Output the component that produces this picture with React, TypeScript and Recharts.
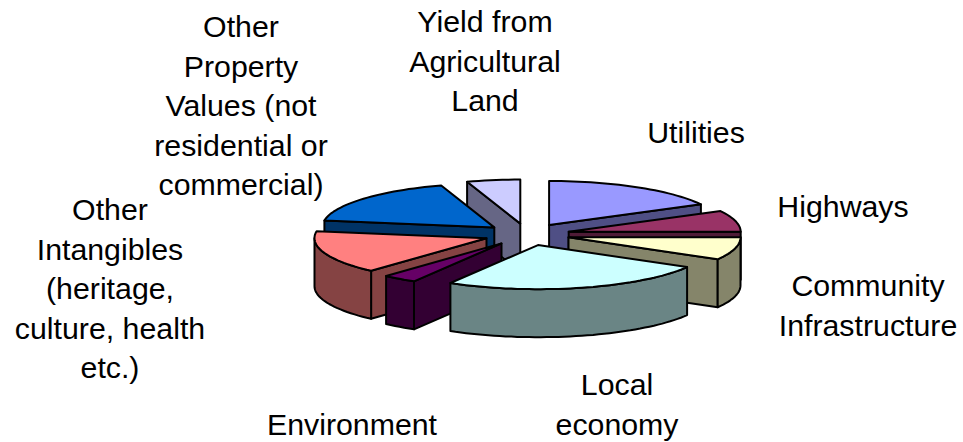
import { PieChart, Pie } from "recharts";

const categories = [
  "Utilities",
  "Highways",
  "Community Infrastructure",
  "Local economy",
  "Environment",
  "Other Intangibles (heritage, culture, health etc.)",
  "Other Property Values (not residential or commercial)",
  "Yield from Agricultural Land",
];
const values = [17.2, 7.8, 8.3, 25.2, 3.2, 15.8, 17.5, 5.0];

const labelLines = [
  ["Utilities"],
  ["Highways"],
  ["Community", "Infrastructure"],
  ["Local", "economy"],
  ["Environment"],
  ["Other", "Intangibles", "(heritage,", "culture, health", "etc.)"],
  ["Other", "Property", "Values (not", "residential or", "commercial)"],
  ["Yield from", "Agricultural", "Land"],
];

const topColors = ["#9999FF", "#993366", "#FFFFCC", "#CCFFFF", "#660066", "#FF8080", "#0066CC", "#CCCCFF"];
const sideColors = ["#4F4F85", "#4F1B36", "#85856A", "#6A8585", "#330033", "#854343", "#003366", "#666685"];

// label anchor (centre x, first line centre y)
const labelPos = [
  [696, 132],
  [843, 206],
  [868, 285],
  [617, 384],
  [352, 424],
  [110, 209],
  [241, 26],
  [485, 21],
];

// back to front, so nearer slices cover the walls of the ones behind
const drawOrder = [7, 0, 6, 1, 5, 2, 4, 3];

const data = categories.map((name, i) => ({ name, value: values[i] }));

const RATIO = 0.256;
const DEPTH = 48;
const EXPLODE = 43;
const LINE_H = 39.6;
const RAD = Math.PI / 180;

function pts(list: number[][]) {
  return list.map((p) => `${p[0].toFixed(1)},${p[1].toFixed(1)}`).join(" ");
}

function Slice3D(props: any) {
  const { cx, cy, outerRadius: r, startAngle, endAngle, midAngle, index } = props;
  const mid = midAngle ?? (startAngle + endAngle) / 2;
  const ax = cx + EXPLODE * Math.cos(mid * RAD);
  const ay = cy - EXPLODE * Math.sin(mid * RAD) * RATIO;
  const at = (deg: number) => [
    ax + r * Math.cos(deg * RAD),
    ay - r * Math.sin(deg * RAD) * RATIO,
  ];
  const down = (p: number[]) => [p[0], p[1] + DEPTH];
  const arc = (from: number, to: number) => {
    const out: number[][] = [];
    const n = Math.max(2, Math.ceil(Math.abs(from - to) / 2));
    for (let i = 0; i <= n; i++) out.push(at(from + ((to - from) * i) / n));
    return out;
  };

  const side = sideColors[index];
  const common = { stroke: "#000", strokeWidth: 2, strokeLinejoin: "round" as const };
  const apex = [ax, ay];
  const s = at(startAngle);
  const e = at(endAngle);

  // only the walls and the part of the rim facing the viewer are drawn
  const showStart = Math.cos(startAngle * RAD) < 0;
  const showEnd = Math.cos(endAngle * RAD) > 0;
  const from = Math.min(startAngle, 0);
  const to = Math.max(endAngle, -180);
  const rim = from > to ? arc(from, to) : null;

  return (
    <g>
      {showStart && <polygon points={pts([apex, s, down(s), down(apex)])} fill={side} {...common} />}
      {showEnd && <polygon points={pts([apex, e, down(e), down(apex)])} fill={side} {...common} />}
      {rim && (
        <polygon
          points={pts([...rim, ...rim.map(down).reverse()])}
          fill={side}
          {...common}
        />
      )}
      <polygon points={pts([apex, ...arc(startAngle, endAngle)])} fill={topColors[index]} {...common} />
    </g>
  );
}

function SliceLabel(props: any) {
  const { index } = props;
  const [x, y] = labelPos[index];
  return (
    <text
      x={x}
      y={y}
      textAnchor="middle"
      dominantBaseline="central"
      fontFamily="Liberation Sans, Arial, sans-serif"
      fontSize={30.3}
      fill="#000"
    >
      {labelLines[index].map((line, i) => (
        <tspan key={i} x={x} y={y + i * LINE_H}>
          {line}
        </tspan>
      ))}
    </text>
  );
}

export default function App() {
  return (
    <div style={{ position: "absolute", left: 0, top: 0, width: 963, height: 442, background: "#fff" }}>
      <PieChart width={963} height={442} margin={{ top: 0, right: 0, bottom: 0, left: 0 }}>
        {drawOrder.map((idx) => (
          <Pie
            key={idx}
            data={data}
            dataKey="value"
            nameKey="name"
            cx={527}
            cy={234.5}
            innerRadius={0}
            outerRadius={172}
            startAngle={90}
            endAngle={-270}
            paddingAngle={0}
            isAnimationActive={false}
            shape={(p: any) => (p.index === idx ? <Slice3D {...p} /> : <g />)}
            label={idx === 3 ? (p: any) => <SliceLabel {...p} /> : false}
            labelLine={false}
          />
        ))}
      </PieChart>
    </div>
  );
}
